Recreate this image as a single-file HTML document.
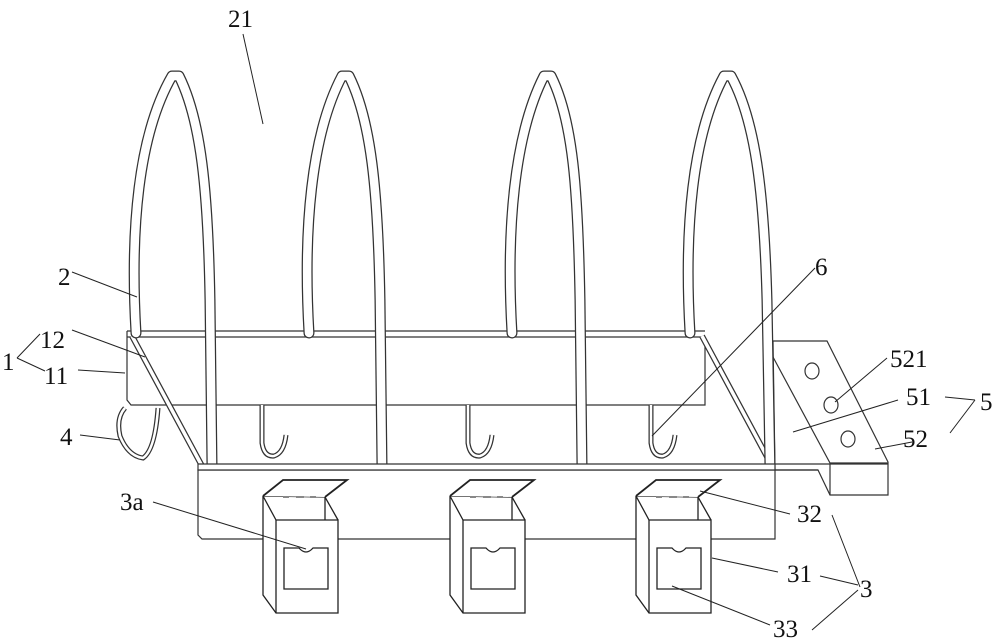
<!DOCTYPE html>
<html><head><meta charset="utf-8"><style>
html,body{margin:0;padding:0;background:#fff;}
svg{display:block;}
text{font-family:"Liberation Serif",serif;font-size:25px;fill:#111;}
</style></head><body>
<svg width="1000" height="642" viewBox="0 0 1000 642" xmlns="http://www.w3.org/2000/svg">
<defs>
<g id="box" fill="none" stroke="#222" stroke-width="1.3">
  <path d="M263,496 L276,520 L338,520 L338,613 L276,613 L263,595 Z" fill="#fff"/>
  <path d="M276,520 L276,613"/>
  <path d="M263,496 L325,497 L338,520"/>
  <path d="M325,497 L325,520"/>
  <path d="M263,496 L283,480 L347,480 L325,497" stroke-width="1.8" fill="#fff"/>
  <path d="M283,497 h6 M296,497 h8 M310,497 h6" stroke="#888" stroke-width="2"/>
  <path d="M284,589 L284,548 L299,548 Q306,556 313,548 L328,548 L328,589 Z"/>
</g>
<g id="hook" fill="none">
  <path d="M0,0 L0,38 Q2,52 12,51 Q22,48 24,30" stroke="#333" stroke-width="5"/>
  <path d="M0,0 L0,38 Q2,52 12,51 Q22,48 24,30" stroke="#fff" stroke-width="2.5"/>
</g>
</defs>

<!-- back panel -->
<g fill="none" stroke="#333" stroke-width="1.2">
  <path d="M127,331 L705,331 M127,337 L705,337"/>
  <path d="M127,331 L127,400 L131,405 L705,405 L705,337"/>
</g>

<!-- bracket 5 -->
<g fill="#fff" stroke="#333" stroke-width="1.2">
  <path d="M773,341 L827,341 L888,462 L888,495 L830,495 L818,470 L775,470 Z"/>
  <path d="M773,357 L830,463 L888,463 M830,463 L830,495" fill="none"/>
  <ellipse cx="812" cy="371" rx="7" ry="8"/>
  <ellipse cx="831" cy="405" rx="7" ry="8"/>
  <ellipse cx="848" cy="439" rx="7" ry="8"/>
</g>

<!-- hooks -->
<use href="#hook" x="262" y="405"/>
<use href="#hook" x="468" y="405"/>
<use href="#hook" x="651" y="405"/>
<g fill="none">
  <path d="M125,408 Q116,418 120,436 Q128,456 143,458 Q155,450 158,408" stroke="#333" stroke-width="5"/>
  <path d="M125,408 Q116,418 120,436 Q128,456 143,458 Q155,450 158,408" stroke="#fff" stroke-width="2.5"/>
</g>

<!-- diagonal struts -->
<g fill="none">
  <path d="M132,336 L202,466" stroke="#333" stroke-width="6"/>
  <path d="M132,336 L202,466" stroke="#fff" stroke-width="3.5"/>
  <path d="M702,336 L772,466" stroke="#333" stroke-width="6"/>
  <path d="M702,336 L772,466" stroke="#fff" stroke-width="3.5"/>
</g>

<!-- arches -->
<g fill="none" stroke-linecap="round" stroke-linejoin="round">
  <g stroke="#333" stroke-width="11">
    <path d="M136,333 C130,230 138,135 172,76 L179,76 C201,120 208,190 210,300 L212,466"/>
    <path d="M309,333 C303,230 311,135 342,76 L349,76 C371,120 378,190 380,300 L382,466"/>
    <path d="M512,333 C506,230 514,135 544,76 L551,76 C573,120 578,190 580,300 L582,466"/>
    <path d="M690,333 C684,230 692,135 724,76 L731,76 C755,120 764,190 767,300 L770,466"/>
  </g>
  <g stroke="#fff" stroke-width="8.5">
    <path d="M136,333 C130,230 138,135 172,76 L179,76 C201,120 208,190 210,300 L212,466"/>
    <path d="M309,333 C303,230 311,135 342,76 L349,76 C371,120 378,190 380,300 L382,466"/>
    <path d="M512,333 C506,230 514,135 544,76 L551,76 C573,120 578,190 580,300 L582,466"/>
    <path d="M690,333 C684,230 692,135 724,76 L731,76 C755,120 764,190 767,300 L770,466"/>
  </g>
</g>

<!-- front panel -->
<g fill="#fff" stroke="#333" stroke-width="1.2">
  <path d="M198,470 L775,470 L775,539 L202,539 L198,535 Z"/>
  <path d="M198,464 L775,464 L775,470 L198,470 Z"/>
  <path d="M775,464 L888,464 M775,470 L818,470" fill="none"/>
</g>

<!-- boxes -->
<use href="#box"/>
<use href="#box" x="187"/>
<use href="#box" x="373"/>

<!-- leaders -->
<g stroke="#222" stroke-width="1" fill="none">
  <path d="M243,34 L263,124"/>
  <path d="M72,272 L137,297"/>
  <path d="M72,330 L145,357"/>
  <path d="M17,358 L40,334 M17,358 L45,371"/>
  <path d="M78,370 L125,373"/>
  <path d="M80,435 L120,440"/>
  <path d="M815,268 L652,436"/>
  <path d="M887,358 L835,402"/>
  <path d="M898,400 L793,432"/>
  <path d="M945,397 L975,400 M950,433 L975,400"/>
  <path d="M912,442 L875,449"/>
  <path d="M153,502 L306,549"/>
  <path d="M790,514 L700,491"/>
  <path d="M778,572 L712,558"/>
  <path d="M770,625 L672,586"/>
  <path d="M832,515 L860,587 M820,576 L858,585 M812,630 L858,590"/>
</g>

<!-- labels -->
<text x="228" y="27">21</text>
<text x="58" y="285">2</text>
<text x="40" y="348">12</text>
<text x="2" y="370">1</text>
<text x="44" y="384">11</text>
<text x="60" y="445">4</text>
<text x="815" y="275">6</text>
<text x="890" y="367">521</text>
<text x="906" y="405">51</text>
<text x="980" y="410">5</text>
<text x="903" y="447">52</text>
<text x="120" y="510">3a</text>
<text x="797" y="522">32</text>
<text x="787" y="582">31</text>
<text x="860" y="597">3</text>
<text x="773" y="637">33</text>
</svg>
</body></html>
